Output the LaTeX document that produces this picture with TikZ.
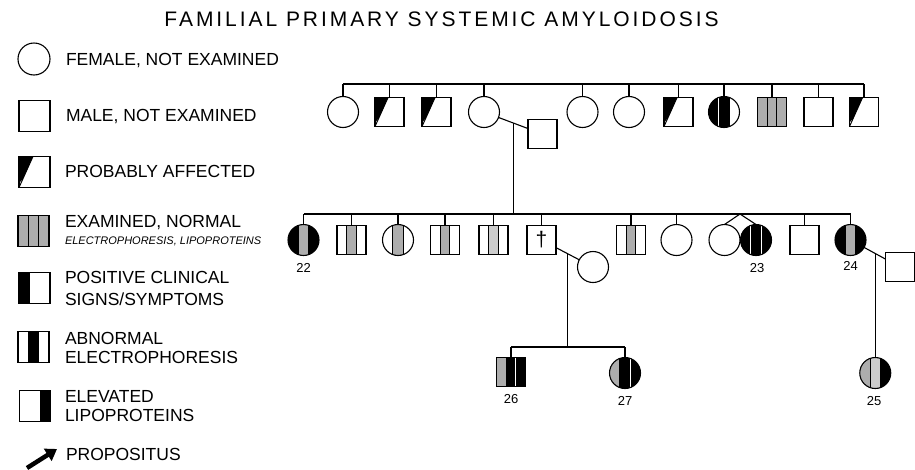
\documentclass[tikz,border=0pt]{standalone}
\usepackage{fontspec}
\setmainfont{Liberation Sans}
\usetikzlibrary{calc,arrows.meta}
\definecolor{gr}{gray}{0.68}
\definecolor{grl}{gray}{0.8}
\tikzset{
  every node/.style={inner sep=0pt, outer sep=0pt},
  ln/.style={line width=1.1pt},
  fem/.style={circle, draw, ln, minimum size=31pt},
  mal/.style={rectangle, draw, ln, minimum size=29pt},
  legsize/.style={minimum size=31pt},
  thirds/.style n args={5}{path picture={
    \coordinate (pA) at (path picture bounding box.south west);
    \coordinate (pB) at (path picture bounding box.north east);
    \fill[#1] (pA) rectangle ($(pA|-pB)!1/3!(pB)$);
    \fill[#2] ($(pA)!1/3!(pA-|pB)$) rectangle ($(pA|-pB)!2/3!(pB)$);
    \fill[#3] ($(pA)!2/3!(pA-|pB)$) rectangle (pB);
    \draw[#4, line width=1pt] ($(pA)!1/3!(pA-|pB)$) -- ($(pA|-pB)!1/3!(pB)$);
    \draw[#5, line width=1pt] ($(pA)!2/3!(pA-|pB)$) -- ($(pA|-pB)!2/3!(pB)$);
  }},
  paff/.style={path picture={
    \coordinate (qA) at (path picture bounding box.north west);
    \coordinate (qB) at (path picture bounding box.north east);
    \coordinate (qC) at (path picture bounding box.south west);
    \coordinate (qP) at ($(qA)!0.45!(qB)$);
    \fill (qA) -- (qP) -- ($(qP)!0.72!(qC)$) -- ($(qA)!0.86!(qC)$) -- cycle;
    \draw[line width=1pt] (qP) -- (qC);
  }},
  legtext/.style={anchor=base west, font=\fontsize{17.5}{20}\selectfont},
  num/.style={font=\fontsize{13}{15}\selectfont},
}
\begin{document}
\begin{tikzpicture}[x=1pt,y=-1pt]
\useasboundingbox (0,0) rectangle (915,469);
\fill[white] (0,0) rectangle (915,469);

% title
\node[anchor=base] (title) at (441.5,26.7) {\fontsize{21}{25}\selectfont\addfontfeature{LetterSpace=14}FAMILIAL PRIMARY SYSTEMIC AMYLOIDOSIS};

% legend symbols
\node[fem, minimum size=32pt] (L1) at (34,59) {};
\node[mal, legsize] (L2) at (34.5,116) {};
\node[mal, legsize, paff] (L3) at (34.5,172) {};
\node[mal, legsize, thirds={gr}{gr}{gr}{black}{black}] (L4) at (33.5,231) {};
\node[mal, legsize, thirds={black}{white}{white}{black}{draw=none}] (L5) at (34.5,288) {};
\node[mal, legsize, thirds={white}{black}{white}{black}{black}] (L6) at (33.5,347) {};
\node[mal, legsize, thirds={white}{white}{black}{draw=none}{black}] (L7) at (35,406) {};
\coordinate (a1) at (27,468);
\coordinate (a2) at (57,449);
\draw[line width=4.5pt, -{Triangle[length=11pt,width=14pt]}] (a1) -- (a2);

% legend texts
\node[legtext] (t1) at (66,65) {FEMALE, NOT EXAMINED};
\node[legtext] (t2) at (66,121) {MALE, NOT EXAMINED};
\node[legtext] (t3) at (65,177) {PROBABLY AFFECTED};
\node[legtext] (t4) at (65,227) {EXAMINED, NORMAL};
\node[anchor=base west, font=\fontsize{11}{13}\selectfont\itshape] (t4b) at (65,244) {ELECTROPHORESIS, LIPOPROTEINS};
\node[legtext] (t5) at (65,283) {POSITIVE CLINICAL};
\node[legtext] (t5b) at (65,305) {SIGNS/SYMPTOMS};
\node[legtext] (t6) at (65,344) {ABNORMAL};
\node[legtext] (t6b) at (65,363) {ELECTROPHORESIS};
\node[legtext] (t7) at (65,402) {ELEVATED};
\node[legtext] (t7b) at (65,421) {LIPOPROTEINS};
\node[legtext] (t8) at (66,460) {PROPOSITUS};

% generation I
\coordinate (S1) at (0,84);
\coordinate (S2) at (0,214);
\coordinate (S3) at (0,347);
\node[fem] (g1a) at (343,112) {};
\node[mal, paff] (g1b) at (389.5,112) {};
\node[mal, paff] (g1c) at (436.5,112) {};
\node[fem] (g1d) at (484,112) {};
\node[mal] (sp1) at (542.5,134) {};
\node[fem] (g1e) at (582.5,112) {};
\node[fem] (g1f) at (629,112) {};
\node[mal, paff] (g1g) at (678.5,112) {};
\node[fem, thirds={black}{black}{white}{white}{black}] (g1h) at (724,112) {};
\node[mal, thirds={gr}{gr}{gr}{black}{black}] (g1i) at (772,112) {};
\node[mal] (g1j) at (818.5,112) {};
\node[mal, paff] (g1k) at (864,112) {};
\draw[ln] (g1a.north |- S1) -- (g1k.north |- S1);
\foreach \n in {g1a,g1b,g1c,g1d,g1e,g1f,g1g,g1h,g1i,g1j,g1k}
  \draw[ln] (\n.north) -- (\n.north |- S1);
\draw[ln] (g1d) -- (sp1);
\coordinate (m1) at ($(g1d)!0.5!(sp1)$);
\draw[ln] (m1) -- (m1 |- S2);

% generation II
\node[fem, thirds={black}{gr}{black}{black}{black}] (g2a) at (303.5,240) {};
\node[mal, thirds={white}{gr}{white}{black}{black}] (g2b) at (351.5,240) {};
\node[fem, thirds={white}{gr}{white}{black}{black}] (g2c) at (398,240) {};
\node[mal, thirds={white}{gr}{white}{black}{black}] (g2d) at (445,240) {};
\node[mal, thirds={white}{grl}{white}{black}{black}] (g2e) at (493.5,240) {};
\node[mal] (g2f) at (541.5,240) {\fontsize{21}{21}\selectfont †};
\node[fem] (sp2) at (593,267) {};
\node[mal, thirds={white}{gr}{white}{black}{black}] (g2g) at (631,240) {};
\node[fem] (g2h) at (676.5,240) {};
\node[fem] (g2i) at (724.5,240) {};
\node[fem, thirds={black}{black}{black}{white}{white}] (g2j) at (756,240) {};
\node[mal] (g2k) at (804.5,240) {};
\node[fem, thirds={black}{gr}{black}{black}{black}] (g2l) at (850.5,240) {};
\node[mal] (sp3) at (900,267) {};
\draw[ln] (g2a.north |- S2) -- (g2l.north |- S2);
\foreach \n in {g2a,g2b,g2c,g2d,g2e,g2f,g2g,g2h,g2k,g2l}
  \draw[ln] (\n.north) -- (\n.north |- S2);
\coordinate (tw) at (740,214);
\draw[ln] (g2i.north) -- (tw) -- (g2j.north);
\draw[ln] (g2f) -- (sp2);
\coordinate (m2) at ($(g2f)!0.5!(sp2)$);
\draw[ln] (m2) -- (m2 |- S3);
\draw[ln] (g2l) -- (sp3);
\coordinate (m3) at ($(g2l)!0.5!(sp3)$);

% generation III
\node[mal, thirds={gr}{black}{black}{black}{white}] (g3a) at (511,372) {};
\node[fem, thirds={gr}{black}{black}{black}{white}] (g3b) at (625,373) {};
\node[fem, thirds={gr}{grl}{black}{black}{black}] (g3c) at (875.25,373) {};
\draw[ln] (g3a.north |- S3) -- (g3b.north |- S3);
\foreach \n in {g3a,g3b}
  \draw[ln] (\n.north) -- (\n.north |- S3);
\draw[ln] (m3) -- (g3c.north);

% numbers
\node[num] (n22) at (303.5,268) {22};
\node[num] (n23) at (757,268) {23};
\node[num] (n24) at (850.5,266) {24};
\node[num] (n26) at (511,399) {26};
\node[num] (n27) at (625,401) {27};
\node[num] (n25) at (874,401) {25};
\end{tikzpicture}
\end{document}
